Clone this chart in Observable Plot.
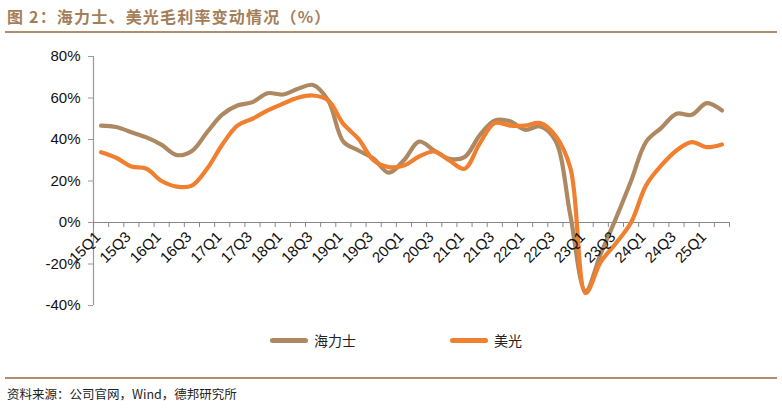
<!DOCTYPE html>
<html>
<head>
<meta charset="utf-8">
<script src="https://cdn.jsdelivr.net/npm/d3@7"></script>
<script src="https://cdn.jsdelivr.net/npm/@observablehq/plot@0.6"></script>
<style>
  html, body { margin: 0; padding: 0; background: #fff; }
  #wrap { position: relative; width: 782px; height: 419px; overflow: hidden; font-family: "Liberation Sans", Arial, sans-serif; }
  #title { position: absolute; left: 7px; top: 4px; font-family: "Noto Sans CJK SC", sans-serif; font-weight: bold; font-size: 16px; color: #A47E58; letter-spacing: 1.2px; white-space: nowrap; }
  .rule { position: absolute; left: 5px; width: 772px; height: 2px; background: #B08D6B; }
  #chart { position: absolute; left: 0; top: 40px; }
  #legend { position: absolute; top: 330px; left: 0; width: 782px; height: 20px; font-family: "Noto Sans CJK SC", sans-serif; font-size: 14px; color: #222; }
  .lg { position: absolute; top: 0; display: flex; align-items: center; height: 20px; }
  .sw { width: 38px; height: 5px; border-radius: 3px; margin-right: 6px; }
  #caption { position: absolute; left: 7px; top: 384px; font-family: "Noto Sans CJK SC", sans-serif; font-size: 12.5px; color: #222; white-space: nowrap; }
</style>
</head>
<body>
<div id="wrap">
  <div id="title">图 2：海力士、美光毛利率变动情况（%）</div>
  <div class="rule" style="top:31px"></div>
  <div id="chart"></div>
  <div id="legend"></div>
  <div class="rule" style="top:377px"></div>
  <div id="caption">资料来源：公司官网，Wind，德邦研究所</div>
</div>
<script>
const quarters = ["15Q1","15Q2","15Q3","15Q4","16Q1","16Q2","16Q3","16Q4","17Q1","17Q2","17Q3","17Q4",
  "18Q1","18Q2","18Q3","18Q4","19Q1","19Q2","19Q3","19Q4","20Q1","20Q2","20Q3","20Q4",
  "21Q1","21Q2","21Q3","21Q4","22Q1","22Q2","22Q3","22Q4","23Q1","23Q2","23Q3","23Q4",
  "24Q1","24Q2","24Q3","24Q4","25Q1","25Q2"];
const hynix = [46.7,46,43.5,41,37.4,32.5,34.5,43.5,52,56.4,58,62.3,
  61.7,64.4,66.3,58.8,39,34.7,30.7,24,30,39,34.7,30.7,
  31.5,42,49.2,48.8,44.7,46.3,39.5,3,-33,-15,2,20,
  39,45.6,52.4,51.9,57.5,54];
const micron = [33.9,31.2,27,25.9,20,17.3,17.8,25.9,37.5,46.7,50,54,
  57.2,60.1,61.2,58.8,47.5,40.3,29.9,26.7,27.5,31.8,34.2,29.9,
  25.9,38,47.9,46.7,46.7,47.9,41.9,26,-34,-19,-10,0,
  18,27.5,34.7,38.7,36.3,37.6];
const seriesNames = ["海力士","美光"];
const seriesColors = ["#AD8861","#F07F30"];
const yTicks = [-40,-20,0,20,40,60,80];

const rows = [];
quarters.forEach((q,i) => {
  rows.push({i, q, s: seriesNames[0], v: hynix[i]});
  rows.push({i, q, s: seriesNames[1], v: micron[i]});
});
const n = quarters.length;
const boundaries = d3.range(n + 1).map(k => k - 0.5);
const labelIdx = d3.range(0, n, 2);

const plot = Plot.plot({
  width: 782,
  height: 290,
  marginLeft: 93,
  marginRight: 53,
  marginTop: 16,
  marginBottom: 25,
  style: { fontFamily: "'Liberation Sans', Arial, sans-serif", background: "transparent", overflow: "visible" },
  x: { type: "linear", domain: [-0.5, n - 0.5], axis: null },
  y: { domain: [-40, 80], axis: null },
  color: { domain: seriesNames, range: seriesColors },
  marks: [
    Plot.ruleX([-0.5], { stroke: "#999", strokeWidth: 1.2 }),
    Plot.axisY({ ticks: yTicks, tickFormat: d => d + "%", tickSize: 5, tickPadding: 8, fontSize: 15, stroke: "#999", color: "#111", fill: "#111", label: null }),
    Plot.ruleY([0], { stroke: "#888", strokeWidth: 1.2 }),
    Plot.ruleX(boundaries, { x: d => d, y1: 0, y2: -2.4, stroke: "#888", strokeWidth: 1 }),
    Plot.line(rows, { x: "i", y: "v", z: "s", stroke: "s", strokeWidth: 4.2, curve: "catmull-rom", strokeLinecap: "round" }),
    Plot.text(labelIdx, { x: d => d - 0.2, y: 0, text: d => quarters[d], rotate: -45, textAnchor: "end", dy: 12, fontSize: 15, fill: "#111", lineAnchor: "middle" })
  ]
});
document.getElementById("chart").appendChild(plot);

const legend = document.getElementById("legend");
const lx = [270, 450];
seriesNames.forEach((s, k) => {
  const el = document.createElement("div");
  el.className = "lg";
  el.style.left = lx[k] + "px";
  el.innerHTML = `<div class="sw" style="background:${seriesColors[k]}"></div><span>${s}</span>`;
  legend.appendChild(el);
});
</script>
</body>
</html>
